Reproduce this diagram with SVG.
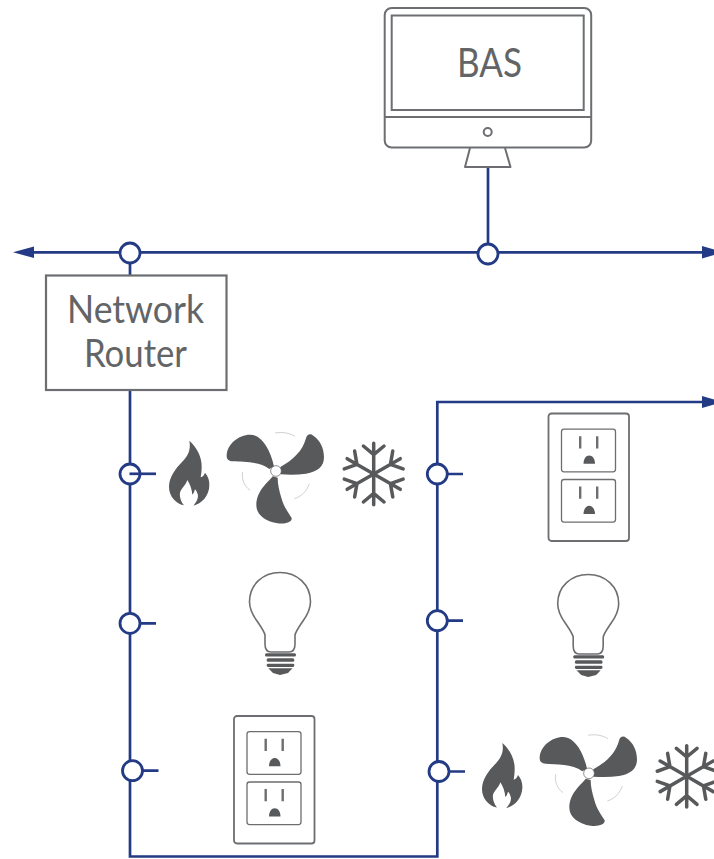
<svg xmlns="http://www.w3.org/2000/svg" width="714" height="859" viewBox="0 0 714 859">
<style>
.w{fill:none;stroke:#233a85;stroke-width:2.7}
.n{fill:#fff;stroke:#233a85;stroke-width:2.8}
.g{fill:none;stroke:#6d6e71;stroke-width:2}
.s{fill:#58595b}
.t{font-family:"Lato","Liberation Sans",sans-serif;fill:#636466;text-anchor:middle}
.a{fill:#233a85}
.sf{fill:none;stroke:#58595b;stroke-width:10.5;stroke-linecap:round;stroke-linejoin:round}
</style>
<defs>
<g id="flame"><path class="s" d="M238 62C262 82 276 115 275 140C275 152 274 162 272 172C279 170 283 165 285 158C294 168 299 182 298 197C297 225 278 250 250 257C262 244 267 230 262 220C260 214 258 210 255 208C253 216 250 222 247 224C246 208 240 192 232 180C228 195 214 205 210 218C208 232 214 246 222 256C196 250 177 228 177 200C177 170 198 145 216 126C232 110 244 90 238 62Z"/></g>
<g id="fan">
<path class="s" d="M-6-14C-13-50-38-109-78-109C-112-109-148-80-148-45C-148-33-140-30-130-29C-100-26-50-30-20-6Z"/>
<path class="s" d="M13-12C50-32 80-60 90-98C93-110 103-114 112-106C132-92 144-70 144-42C144-13 125 2 90 8C65 12 40 12 13 10Z"/>
<path class="s" d="M-10 16C-27 38-59 60-59 103C-59 132-30 152 5 157C25 160 49 155 47 141C37 125 22 105 16 80C10 60 5 40 5 20Z"/>
<circle cx="0" cy="0" r="16" fill="#fff" stroke="#58595b" stroke-width="2"/>
<g fill="none" stroke="#8a8b8e" stroke-width="1.2"><path d="M-3-114C20-118 40-114 57-104"/><path d="M-100 3C-104 25-95 45-78 58"/><path d="M100 38C92 62 75 77 55 83"/></g>
</g>
<g id="snow"><g id="arm"><path class="sf" d="M0 0V-92M-31-84L0-58L31-84"/></g>
<use href="#arm" transform="rotate(60)"/><use href="#arm" transform="rotate(120)"/><use href="#arm" transform="rotate(180)"/><use href="#arm" transform="rotate(240)"/><use href="#arm" transform="rotate(300)"/></g>
<g id="outlet">
<rect x="0" y="0" width="80.5" height="127.5" rx="3" fill="#fff" stroke="#6d6e71" stroke-width="1.8"/>
<g id="socket"><rect x="13" y="15.7" width="54" height="42.6" rx="2.5" fill="#fff" stroke="#6d6e71" stroke-width="1.3"/>
<path d="M31.7 22.7V35M48.7 22.7V35" stroke="#6d6e71" stroke-width="2.4" fill="none"/>
<path class="s" d="M35 50.2C35 45.5 37.5 42 40.7 42C44 42 46.5 45.5 46.5 50.2Z"/></g>
<use href="#socket" y="50.3"/>
</g>
<g id="bulb">
<path d="M35 70C34 66 31 62 27 56C22 49 19.5 44 19.5 36.7C19.5 19.5 33 7.5 50 7.5C67 7.5 80.5 19.5 80.5 36.7C80.5 44 78 49 73 56C69 62 66 66 65 70V79C65 84 63 87 59 87H41C37 87 35 84 35 79Z" fill="none" stroke="#6d6e71" stroke-width="1.6"/>
<g class="s"><rect x="35" y="88.3" width="31" height="3.2" rx="1.5"/><rect x="36.7" y="93.3" width="27.6" height="3.5" rx="1.5"/><rect x="36.7" y="98.8" width="27.6" height="3.2" rx="1.4"/><path d="M38.3 103.3H62.5L58 108L50 110L43 108Z"/></g>
</g>
<g id="hvac">
<use href="#flame" transform="translate(110,420) scale(.3333)"/>
<use href="#fan" transform="translate(276,471) scale(.3333)"/>
<use href="#snow" transform="translate(373.7,474) scale(.3333)"/>
</g>
</defs>
<g id="connectors">
<path class="w" d="M30 252.3H702"/>
<path class="a" d="M13 252.3L34 246.5V258Z"/>
<path class="a" d="M723 252.3L702 246V258.5Z"/>
<path class="w" d="M488 167V253"/>
<path class="w" d="M130 262V275M130 390V856.5H437.3V402H702"/>
<path class="a" d="M723 402L702 396V408Z"/>
<path class="w" d="M139 623.3H156M142 770.7H158.5M447 474H463M447 620.7H463M449 771.5H465"/>
</g>
<g id="junctions">
<circle class="n" cx="130" cy="253" r="10"/>
<circle class="n" cx="488" cy="254" r="10"/>
<circle class="n" cx="130" cy="474" r="10"/>
<path class="w" d="M129.5 473.8H156"/>
<circle class="n" cx="130" cy="623.3" r="10"/>
<circle class="n" cx="132.5" cy="770.7" r="10"/>
<circle class="n" cx="437.3" cy="474" r="10"/>
<circle class="n" cx="437.3" cy="620.7" r="10"/>
<circle class="n" cx="439" cy="771.5" r="10"/>
</g>
<g id="bas">
<rect x="384.7" y="8" width="206.5" height="139.5" rx="7" class="g"/>
<rect x="391.7" y="15.5" width="192" height="94.5" class="g"/>
<path class="g" d="M385 117H591"/>
<circle cx="487.7" cy="132" r="4" class="g"/>
<path d="M470 148L465 167H510.5L505 148" class="g" stroke-linejoin="round"/>
<text class="t" x="489.5" y="77" font-size="40" textLength="65" lengthAdjust="spacingAndGlyphs">BAS</text>
</g>
<g id="router">
<rect x="46" y="275.5" width="180.5" height="114.5" fill="#fff" stroke="#6d6e71" stroke-width="2.2"/>
<text class="t" x="135.5" y="323" font-size="39" textLength="137" lengthAdjust="spacingAndGlyphs">Network</text>
<text class="t" x="135.5" y="366.5" font-size="39" textLength="103" lengthAdjust="spacingAndGlyphs">Router</text>
</g>
<g id="hvac-left"><use href="#hvac"/></g>
<g id="hvac-right"><use href="#hvac" transform="translate(313,302.3)"/></g>
<g id="bulb-left"><use href="#bulb" transform="translate(230,565)"/></g>
<g id="bulb-right"><use href="#bulb" transform="translate(538.2,567)"/></g>
<g id="outlet-right"><use href="#outlet" transform="translate(548.5,413.5)"/></g>
<g id="outlet-left"><use href="#outlet" transform="translate(234,716)"/></g>
</svg>
